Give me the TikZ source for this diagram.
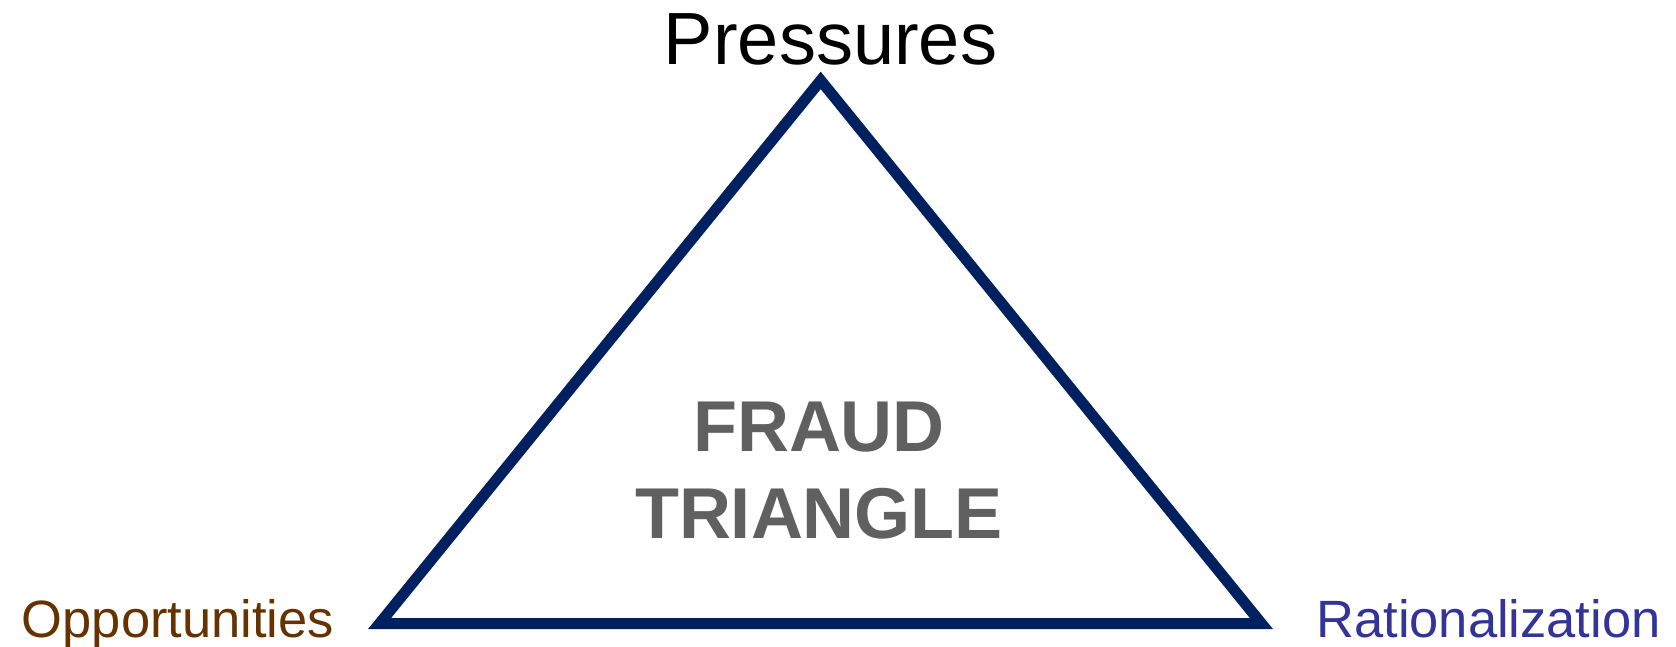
\documentclass[tikz,border=0pt]{standalone}
\usepackage{fontspec}
\setmainfont{Liberation Sans}
\definecolor{edgenavy}{HTML}{002060}
\definecolor{oppbrown}{HTML}{663300}
\definecolor{ratblue}{HTML}{333399}
\definecolor{titlegray}{HTML}{606060}

\begin{document}
\begin{tikzpicture}[x=1pt, y=-1pt,
    corner/.style={inner sep=0pt, anchor=base},
    title/.style={inner sep=0pt, anchor=base, align=center, text=titlegray,
      font=\fontsize{72}{87}\selectfont\bfseries}]
  \useasboundingbox (0,0) rectangle (1676,647);
  % triangle
  \coordinate (apex) at (820.7,80.4);
  \coordinate (lft) at (379.6,623.5);
  \coordinate (rgt) at (1261.4,623.5);
  \draw[edgenavy, line width=11pt, line join=miter] (apex) -- (lft) -- (rgt) -- cycle;
  % corner labels
  \node[corner, font=\fontsize{74}{80}\selectfont] (press) at (830.5,65) {Pressures};
  \node[corner, text=oppbrown, font=\fontsize{52.5}{60}\selectfont] (opp) at (178,637) {Opportunities};
  \node[corner, text=ratblue, font=\fontsize{52.5}{60}\selectfont] (rat) at (1488.5,637) {Rationalization};
  % centre
  \node[title] (fraud) at (819,538) {FRAUD\\TRIANGLE};
\end{tikzpicture}
\end{document}
